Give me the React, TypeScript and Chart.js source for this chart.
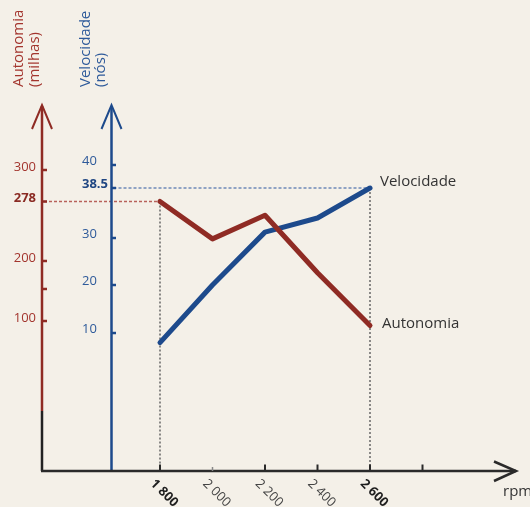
import React, { useEffect, useRef } from 'react';
import { Chart, registerables, LinearScale } from 'chart.js';

// ---- data ----
const rpm = [1800, 2000, 2200, 2400, 2600];
const autonomia = [278, 229, 260, 179, 97];
const velocidade = [9.3, 20, 31, 33.4, 38.5];

const rpmTicks = [1800, 2000, 2200, 2400, 2600, 2800];
const rpmTickLabels = ['1 800', '2 000', '2 200', '2 400', '2 600', ''];
const rpmBold = [1800, 2600];

const autonomiaTicks = [100, 150, 200, 278, 300];
const autonomiaTickLabels = ['100', '', '200', '278', '300'];
const velocidadeTicks = [10, 20, 30, 38.5, 40];
const velocidadeTickLabels = ['10', '20', '30', '38.5', '40'];
const highlightAutonomia = 278;
const highlightVelocidade = 38.5;

// The original drawing uses a non-uniform vertical scale on each axis:
// [value, fraction of axis height]
const AXIS_WARP: Record<string, [number, number][]> = {
  yRed: [[0, 0], [100, 0.4098], [150, 0.4973], [200, 0.5738], [278, 0.7363], [300, 0.8224], [370, 1]],
  yBlue: [[0, 0], [10, 0.377], [20, 0.5082], [30, 0.6366], [38.5, 0.7732], [40, 0.8361], [48, 1]],
};

class WarpScale extends LinearScale {
  static id = 'warp';
  static defaults = LinearScale.defaults;
  toDecimal(v: number) {
    const stops = AXIS_WARP[(this as any).id];
    for (let i = 1; i < stops.length; i++) {
      const [v0, f0] = stops[i - 1];
      const [v1, f1] = stops[i];
      if (v <= v1 || i === stops.length - 1) return f0 + ((v - v0) / (v1 - v0)) * (f1 - f0);
    }
    return 0;
  }
  fromDecimal(d: number) {
    const stops = AXIS_WARP[(this as any).id];
    for (let i = 1; i < stops.length; i++) {
      const [v0, f0] = stops[i - 1];
      const [v1, f1] = stops[i];
      if (d <= f1 || i === stops.length - 1) return v0 + ((d - f0) / (f1 - f0)) * (v1 - v0);
    }
    return 0;
  }
  getPixelForValue(value: any) {
    if (value === null || value === undefined || isNaN(value)) return NaN;
    return (this as any).getPixelForDecimal(this.toDecimal(+value));
  }
  getValueForPixel(pixel: number) {
    return this.fromDecimal((this as any).getDecimalForPixel(pixel));
  }
}

Chart.register(...registerables, WarpScale as any);

const RED = '#8f2b24';
const RED_TEXT = '#a3352e';
const BLUE = '#1d4a8c';
const BLUE_TEXT = '#2e5a9a';
const DARK = '#2a2a2a';
const FONT = '"Open Sans", "Noto Sans", sans-serif';

const decorPlugin = {
  id: 'decor',
  beforeDatasetsDraw(chart: any) {
    const { ctx, chartArea, scales } = chart;
    const xs = scales.x, yr = scales.yRed, yb = scales.yBlue;
    const base = chartArea.bottom;
    const top = chartArea.top;
    const redX = chartArea.left - 118;
    const blueX = chartArea.left - 48.5;
    const xEnd = chartArea.right + 146;
    ctx.save();
    ctx.lineCap = 'butt';

    // guide lines
    const yA = yr.getPixelForValue(highlightAutonomia);
    const yV = yb.getPixelForValue(highlightVelocidade);
    const x0 = xs.getPixelForValue(rpm[0]);
    const x1 = xs.getPixelForValue(rpm[rpm.length - 1]);
    ctx.lineWidth = 1.5;
    ctx.setLineDash([3, 2]);
    ctx.strokeStyle = '#b8625b';
    ctx.beginPath(); ctx.moveTo(redX + 2, yA); ctx.lineTo(x0, yA); ctx.stroke();
    ctx.strokeStyle = '#6d89b8';
    ctx.beginPath(); ctx.moveTo(blueX + 2, yV); ctx.lineTo(x1, yV); ctx.stroke();
    ctx.setLineDash([2, 2]);
    ctx.strokeStyle = '#666';
    ctx.beginPath(); ctx.moveTo(x0, yA); ctx.lineTo(x0, base); ctx.stroke();
    ctx.beginPath(); ctx.moveTo(x1, yV); ctx.lineTo(x1, base); ctx.stroke();
    ctx.setLineDash([]);

    // red axis
    ctx.lineWidth = 2.5;
    ctx.strokeStyle = RED;
    ctx.beginPath(); ctx.moveTo(redX, top + 1); ctx.lineTo(redX, 411); ctx.stroke();
    ctx.strokeStyle = '#222';
    ctx.beginPath(); ctx.moveTo(redX, 411); ctx.lineTo(redX, base); ctx.stroke();
    ctx.strokeStyle = RED;
    ctx.lineWidth = 2;
    ctx.lineJoin = 'miter';
    ctx.beginPath(); ctx.moveTo(redX - 10, top + 24); ctx.lineTo(redX, top); ctx.lineTo(redX + 10, top + 24); ctx.stroke();
    // red ticks
    ctx.lineWidth = 2.5;
    autonomiaTicks.forEach((t) => {
      const y = yr.getPixelForValue(t);
      ctx.beginPath(); ctx.moveTo(redX, y); ctx.lineTo(redX + 5, y); ctx.stroke();
    });

    // blue axis
    ctx.strokeStyle = BLUE;
    ctx.lineWidth = 2.5;
    ctx.beginPath(); ctx.moveTo(blueX, top + 1); ctx.lineTo(blueX, base); ctx.stroke();
    ctx.lineWidth = 2;
    ctx.beginPath(); ctx.moveTo(blueX - 10, top + 24); ctx.lineTo(blueX, top); ctx.lineTo(blueX + 10, top + 24); ctx.stroke();
    ctx.lineWidth = 2.5;
    velocidadeTicks.forEach((t) => {
      const y = yb.getPixelForValue(t);
      ctx.beginPath(); ctx.moveTo(blueX, y); ctx.lineTo(blueX + 4.5, y); ctx.stroke();
    });

    // x axis
    ctx.strokeStyle = DARK;
    ctx.lineWidth = 2.5;
    ctx.beginPath(); ctx.moveTo(redX - 1, base); ctx.lineTo(xEnd, base); ctx.stroke();
    ctx.lineWidth = 2.5;
    ctx.beginPath(); ctx.moveTo(xEnd - 22, base - 9.5); ctx.lineTo(xEnd, base); ctx.lineTo(xEnd - 22, base + 10); ctx.stroke();
    rpmTicks.forEach((t, i) => {
      const x = xs.getPixelForValue(t);
      const dim = i === 1;
      ctx.strokeStyle = dim ? '#888' : DARK;
      ctx.lineWidth = dim ? 1.5 : 2;
      ctx.beginPath(); ctx.moveTo(x, base); ctx.lineTo(x, base - (dim ? 4 : 6.5)); ctx.stroke();
    });
    ctx.restore();
  },
  afterDatasetsDraw(chart: any) {
    const { ctx, chartArea, scales } = chart;
    const xs = scales.x, yr = scales.yRed, yb = scales.yBlue;
    const base = chartArea.bottom;
    const redX = chartArea.left - 118;
    const blueX = chartArea.left - 48.5;
    ctx.save();

    // titles (rotated)
    const vtext = (txt: string, x: number, y: number, color: string) => {
      ctx.save();
      ctx.translate(x, y);
      ctx.rotate(-Math.PI / 2);
      ctx.fillStyle = color;
      ctx.font = `15px ${FONT}`;
      ctx.textAlign = 'left';
      ctx.textBaseline = 'alphabetic';
      ctx.fillText(txt, 0, 0);
      ctx.restore();
    };
    vtext('Autonomia', 23, 87, RED_TEXT);
    vtext('(milhas)', 38.5, 87, RED_TEXT);
    vtext('Velocidade', 89.5, 87, BLUE_TEXT);
    vtext('(nós)', 105, 87, BLUE_TEXT);

    // red tick labels
    ctx.textAlign = 'right';
    ctx.textBaseline = 'middle';
    autonomiaTicks.forEach((t, i) => {
      const lbl = autonomiaTickLabels[i];
      if (!lbl) return;
      const bold = t === highlightAutonomia;
      ctx.font = `${bold ? 'bold ' : ''}13px ${FONT}`;
      ctx.fillStyle = bold ? '#8a2a23' : RED_TEXT;
      ctx.fillText(lbl, redX - 6, yr.getPixelForValue(t) - 3);
    });
    // blue tick labels
    ctx.textAlign = 'left';
    velocidadeTicks.forEach((t, i) => {
      const lbl = velocidadeTickLabels[i];
      const bold = t === highlightVelocidade;
      ctx.font = `${bold ? 'bold ' : ''}13px ${FONT}`;
      ctx.fillStyle = bold ? '#1f4682' : BLUE_TEXT;
      ctx.fillText(lbl, blueX - 29.5, yb.getPixelForValue(t) - 3.5);
    });

    // x tick labels (rotated clockwise)
    rpmTicks.forEach((t, i) => {
      const lbl = rpmTickLabels[i];
      if (!lbl) return;
      const bold = rpmBold.includes(t);
      const x = xs.getPixelForValue(t);
      ctx.save();
      ctx.translate(x - 3, base + 6);
      ctx.rotate(Math.PI / 4);
      ctx.font = `${bold ? 'bold ' : ''}13px ${FONT}`;
      ctx.fillStyle = bold ? '#1e1e1e' : '#444';
      ctx.textAlign = 'left';
      ctx.textBaseline = 'top';
      ctx.fillText(lbl, 0, 0);
      ctx.restore();
    });

    // series labels
    ctx.font = `15px ${FONT}`;
    ctx.fillStyle = '#333';
    ctx.textAlign = 'left';
    ctx.textBaseline = 'middle';
    const xl = xs.getPixelForValue(rpm[rpm.length - 1]);
    ctx.fillText('Velocidade', xl + 10, yb.getPixelForValue(velocidade[velocidade.length - 1]) - 6);
    ctx.fillText('Autonomia', xl + 12, yr.getPixelForValue(autonomia[autonomia.length - 1]) - 2);

    // rpm
    ctx.fillText('rpm', chartArea.right + 133, base + 21);
    ctx.restore();
  },
};

export default function App() {
  const ref = useRef<HTMLCanvasElement | null>(null);
  useEffect(() => {
    document.body.style.margin = '0';
    const canvas = ref.current!;
    const chart = new Chart(canvas, {
      type: 'line',
      data: {
        datasets: [
          {
            label: 'Autonomia',
            data: rpm.map((r, i) => ({ x: r, y: autonomia[i] })),
            yAxisID: 'yRed',
            borderColor: RED,
            borderWidth: 5,
            pointRadius: 0,
            borderCapStyle: 'round',
            borderJoinStyle: 'round',
            tension: 0,
            clip: false as any,
          },
          {
            label: 'Velocidade',
            data: rpm.map((r, i) => ({ x: r, y: velocidade[i] })),
            yAxisID: 'yBlue',
            borderColor: BLUE,
            borderWidth: 5,
            pointRadius: 0,
            borderCapStyle: 'round',
            borderJoinStyle: 'round',
            tension: 0,
            clip: false as any,
          },
        ],
      },
      options: {
        responsive: false,
        maintainAspectRatio: false,
        animation: false,
        layout: { padding: { left: 160, right: 160, top: 105, bottom: 36 } },
        plugins: { legend: { display: false }, tooltip: { enabled: false } },
        scales: {
          x: { type: 'linear', min: 1800, max: 2600, display: false },
          yRed: { type: 'warp' as any, min: 0, max: 370, display: false },
          yBlue: { type: 'warp' as any, min: 0, max: 48, display: false },
        },
      },
      plugins: [decorPlugin],
    } as any);
    return () => chart.destroy();
  }, []);
  return (
    <div style={{ width: 530, height: 507, background: '#f4f0e8', position: 'relative' }}>
      <canvas ref={ref} width={530} height={507} style={{ display: 'block' }} />
    </div>
  );
}
